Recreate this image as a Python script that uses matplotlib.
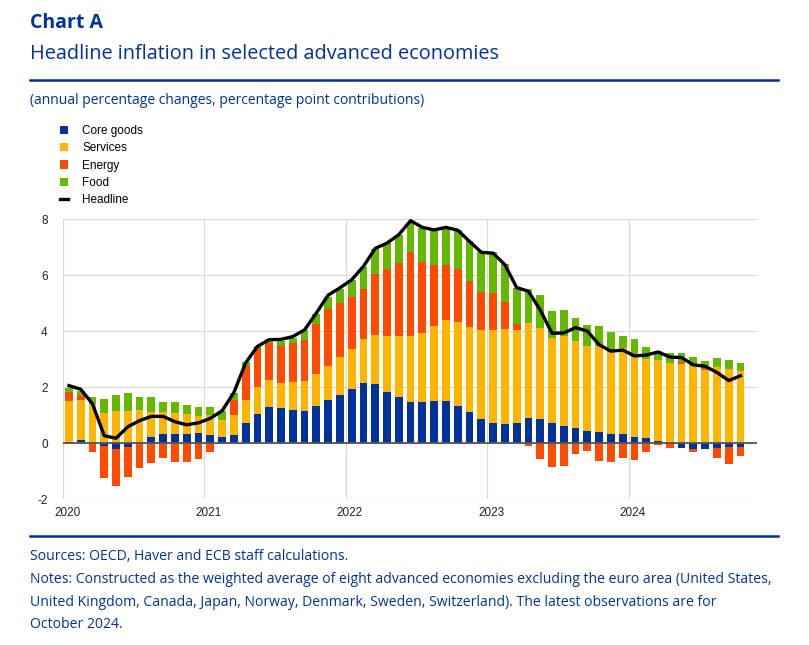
import numpy as np
import matplotlib
matplotlib.use("Agg")
import matplotlib.pyplot as plt

# monthly contributions, Jan 2020 - Oct 2024 (pp)
core_goods = [0.05, 0.10, 0.00, -0.10, -0.20, -0.15, -0.02, 0.20, 0.31, 0.31, 0.31, 0.34,
              0.30, 0.23, 0.29, 0.71, 1.05, 1.29, 1.25, 1.19, 1.14, 1.33, 1.52, 1.73,
              1.94, 2.15, 2.12, 1.81, 1.65, 1.48, 1.48, 1.51, 1.51, 1.33, 1.12, 0.87,
              0.71, 0.68, 0.71, 0.89, 0.86, 0.71, 0.62, 0.54, 0.44, 0.40, 0.33, 0.33,
              0.23, 0.17, 0.07, -0.03, -0.17, -0.21, -0.21, -0.19, -0.13, -0.13]
services = [1.45, 1.43, 1.41, 1.07, 1.15, 1.15, 1.17, 0.89, 0.78, 0.76, 0.72, 0.62,
            0.69, 0.60, 0.72, 0.84, 0.94, 0.97, 0.89, 0.99, 1.09, 1.15, 1.22, 1.33,
            1.43, 1.58, 1.75, 2.02, 2.18, 2.35, 2.46, 2.68, 2.89, 2.99, 3.03, 3.18,
            3.31, 3.39, 3.31, 3.38, 3.26, 3.04, 3.19, 3.09, 3.01, 3.05, 2.91, 3.06,
            2.85, 2.83, 2.89, 2.86, 2.82, 2.76, 2.61, 2.70, 2.64, 2.56]
energy = [0.33, 0.16, -0.33, -1.16, -1.34, -1.05, -0.86, -0.71, -0.55, -0.69, -0.69, -0.56,
          -0.33, 0.00, 0.54, 1.19, 1.40, 1.31, 1.31, 1.39, 1.46, 1.78, 2.06, 1.94,
          1.83, 1.78, 2.18, 2.40, 2.60, 2.98, 2.51, 2.16, 1.97, 1.89, 1.65, 1.35,
          1.34, 0.95, 0.24, -0.10, -0.57, -0.86, -0.83, -0.39, -0.30, -0.65, -0.69, -0.55,
          -0.60, -0.31, -0.07, -0.15, 0.08, -0.10, 0.06, -0.33, -0.61, -0.32]
food = [0.15, 0.15, 0.22, 0.50, 0.56, 0.63, 0.49, 0.54, 0.39, 0.41, 0.32, 0.33,
        0.30, 0.31, 0.25, 0.14, 0.09, 0.14, 0.18, 0.18, 0.33, 0.36, 0.41, 0.51,
        0.61, 0.78, 0.88, 0.91, 1.01, 1.07, 1.23, 1.25, 1.31, 1.39, 1.40, 1.41,
        1.45, 1.37, 1.26, 1.23, 1.15, 0.98, 0.95, 0.85, 0.78, 0.72, 0.74, 0.44,
        0.62, 0.44, 0.34, 0.34, 0.30, 0.31, 0.25, 0.33, 0.32, 0.30]
headline = [2.05, 1.92, 1.40, 0.26, 0.17, 0.58, 0.80, 0.95, 0.95, 0.76, 0.65, 0.72,
            0.88, 1.15, 1.80, 2.86, 3.45, 3.69, 3.70, 3.80, 4.04, 4.64, 5.28, 5.54,
            5.83, 6.31, 6.95, 7.14, 7.44, 7.94, 7.70, 7.61, 7.70, 7.60, 7.20, 6.81,
            6.78, 6.37, 5.55, 5.42, 4.75, 3.92, 3.93, 4.12, 4.00, 3.51, 3.28, 3.32,
            3.11, 3.14, 3.25, 3.07, 3.05, 2.79, 2.74, 2.52, 2.23, 2.40]
years = ["2020", "2021", "2022", "2023", "2024"]

series = [("Core goods", core_goods, "#003299"),
          ("Services", services, "#FFB400"),
          ("Energy", energy, "#FF4B00"),
          ("Food", food, "#65B800")]

blue = "#003299"
plt.rcParams['font.family'] = ['Liberation Sans', 'DejaVu Sans']
plt.rcParams['axes.unicode_minus'] = False

fig = plt.figure(figsize=(8.09, 6.45), dpi=100)
ax = fig.add_axes([63 / 809, 146 / 645, 694 / 809, 280 / 645])

x = np.arange(len(headline)) + 0.5
pos = np.zeros(len(x))
neg = np.zeros(len(x))
handles = []
for name, vals, col in series:
    v = np.array(vals)
    bottom = np.where(v >= 0, pos, neg)
    b = ax.bar(x, v, width=0.66, bottom=bottom, color=col, label=name, zorder=2)
    handles.append(b)
    pos = pos + np.clip(v, 0, None)
    neg = neg + np.clip(v, None, 0)
ln, = ax.plot(x, headline, color="black", lw=2.4, label="Headline", zorder=4,
              solid_joinstyle="round")
handles.append(ln)

ax.axhline(0, color="#555555", lw=1.3, zorder=3)
ax.set_xlim(0, 58.9)
ax.set_ylim(-2, 8)
ax.set_yticks([-2, 0, 2, 4, 6, 8])
# gridlines at year starts, labels a little to the right of them
ax.set_xticks([0, 12, 24, 36, 48])
ax.set_xticklabels([])
ax.set_xticks([0.35, 12.35, 24.35, 36.35, 48.35], minor=True)
ax.set_xticklabels(years, minor=True)
ax.grid(True, which="major", color="#d9d9d9", lw=0.8, zorder=0)
ax.tick_params(which="both", length=0, labelsize=8.5, colors="#222222")
ax.tick_params(axis="y", pad=11)
ax.tick_params(axis="x", which="both", pad=6)
for s in ax.spines.values():
    s.set_visible(False)

ax.legend(handles=handles, labels=[h.get_label() for h in handles],
          loc="upper left", bbox_to_anchor=(60 / 809, 1 - 125 / 645),
          bbox_transform=fig.transFigure, frameon=False, fontsize=8.5,
          handlelength=0.7, handleheight=0.7, handletextpad=1.2,
          labelspacing=0.45, borderaxespad=0, borderpad=0)

fig.text(30 / 809, 1 - 23 / 645, "Chart A", color=blue, fontsize=14,
         fontweight="bold", family=["Open Sans", "DejaVu Sans"], va="center")
fig.text(30 / 809, 1 - 54 / 645, "Headline inflation in selected advanced economies",
         color=blue, fontsize=14.3, family=["Open Sans", "DejaVu Sans"], va="center")
fig.add_artist(plt.Line2D([30 / 809, 778 / 809], [1 - 80 / 645, 1 - 80 / 645],
                          color=blue, lw=1.8))
fig.text(30 / 809, 1 - 100 / 645,
         "(annual percentage changes, percentage point contributions)",
         color=blue, fontsize=10, family=["Open Sans", "DejaVu Sans"], va="center")
fig.add_artist(plt.Line2D([30 / 809, 778 / 809], [1 - 536 / 645, 1 - 536 / 645],
                          color=blue, lw=1.8))
notes = ["Sources: OECD, Haver and ECB staff calculations.",
         "Notes: Constructed as the weighted average of eight advanced economies excluding the euro area (United States,",
         "United Kingdom, Canada, Japan, Norway, Denmark, Sweden, Switzerland). The latest observations are for",
         "October 2024."]
for i, t in enumerate(notes):
    fig.text(30 / 809, 1 - (557 + 22.5 * i) / 645, t, color=blue, fontsize=10.1,
             family=["Open Sans", "DejaVu Sans"], va="center")

fig.savefig("out.png", dpi=100)
